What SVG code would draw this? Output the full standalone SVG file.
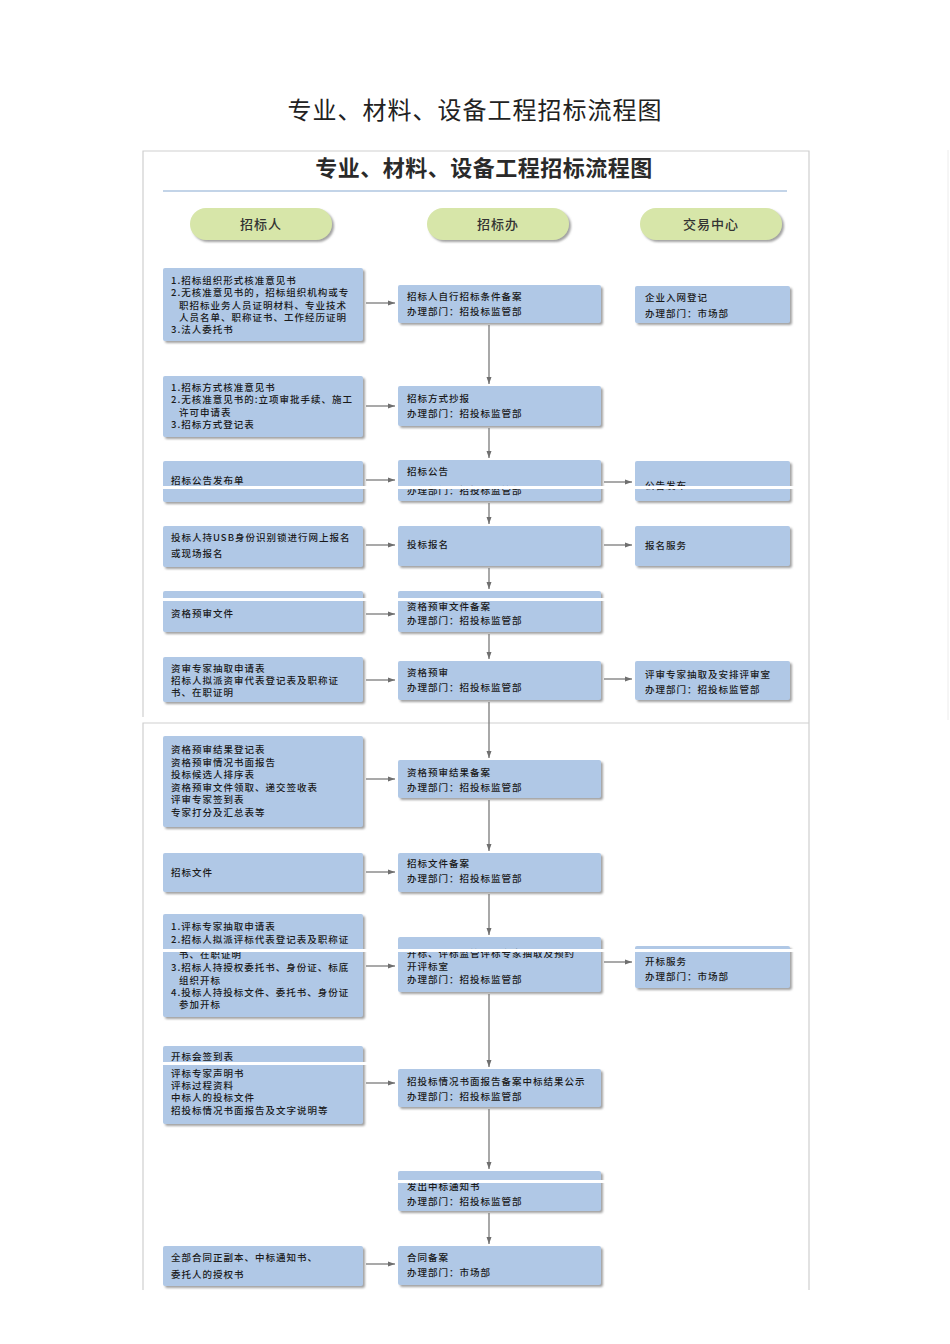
<svg xmlns="http://www.w3.org/2000/svg" width="950" height="1344" viewBox="0 0 950 1344">
<defs>
<filter id="sh" x="-10%" y="-10%" width="120%" height="130%">
<feDropShadow dx="2" dy="2" stdDeviation="1" flood-color="#8a8a8a" flood-opacity="0.8"/>
</filter>
<marker id="ah" markerWidth="8" markerHeight="8" refX="7" refY="4" orient="auto" markerUnits="userSpaceOnUse">
<path d="M0,1.5 L7,4 L0,6.5 Z" fill="#6f6f6f"/>
</marker>
<style>
.box{fill:#b0c8e6;filter:url(#sh)}
.pill{fill:#d7e6a9;filter:url(#sh)}
.t{font-family:"Noto Sans CJK SC","Liberation Sans",sans-serif;font-size:9.5px;font-weight:500;fill:#1a1a1a;letter-spacing:1px}
.p{font-family:"Noto Sans CJK SC","Liberation Sans",sans-serif;font-size:13px;font-weight:500;fill:#333;text-anchor:middle;letter-spacing:1px}
.c{stroke:#7a7a7a;stroke-width:1.3;fill:none;marker-end:url(#ah)}
.frame{stroke:#cfcfcf;stroke-width:1.2;fill:none}
.gap{fill:#ffffff}
</style>
</defs>
<rect x="0" y="0" width="950" height="1344" fill="#ffffff"/>
<text x="475" y="119" text-anchor="middle" font-family="Noto Sans CJK SC, Liberation Serif, serif" font-size="24" fill="#222" letter-spacing="1">专业、材料、设备工程招标流程图</text>

<g id="frame">
<path class="frame" d="M143,717 L143,151 L809,151 L809,1290"/>
<path class="frame" d="M143,1290 L143,723 L809,723"/>
<line x1="948" y1="150" x2="948" y2="720" stroke="#ececec" stroke-width="1"/>
<text x="484" y="176" text-anchor="middle" font-family="Noto Sans CJK SC, sans-serif" font-size="22" font-weight="bold" fill="#2a2a2a" letter-spacing="0.5">专业、材料、设备工程招标流程图</text>
<line x1="163" y1="191" x2="787" y2="191" stroke="#c3d4e8" stroke-width="2"/>
</g>

<g id="lane-zbr"><rect class="pill" x="190" y="208" width="142" height="32" rx="16"/><text class="p" x="261" y="229">招标人</text></g>
<g id="lane-zbb"><rect class="pill" x="427" y="208" width="142" height="32" rx="16"/><text class="p" x="498" y="229">招标办</text></g>
<g id="lane-jyzx"><rect class="pill" x="640" y="208" width="142" height="32" rx="16"/><text class="p" x="711" y="229">交易中心</text></g>

<!-- left column -->
<g id="L1"><rect class="box" x="163" y="268" width="200" height="73" rx="2"/>
<text class="t" x="171" y="284">1.招标组织形式核准意见书</text>
<text class="t" x="171" y="296">2.无核准意见书的，招标组织机构或专</text>
<text class="t" x="179" y="309">职招标业务人员证明材料、专业技术</text>
<text class="t" x="179" y="321">人员名单、职称证书、工作经历证明</text>
<text class="t" x="171" y="333">3.法人委托书</text></g>
<g id="L2"><rect class="box" x="163" y="376" width="200" height="61" rx="2"/>
<text class="t" x="171" y="391">1.招标方式核准意见书</text>
<text class="t" x="171" y="403">2.无核准意见书的:立项审批手续、施工</text>
<text class="t" x="179" y="416">许可申请表</text>
<text class="t" x="171" y="428">3.招标方式登记表</text></g>
<g id="L3"><rect class="box" x="163" y="461" width="200" height="41" rx="2"/>
<text class="t" x="171" y="484">招标公告发布单</text></g>
<g id="L4"><rect class="box" x="163" y="526" width="200" height="41" rx="2"/>
<text class="t" x="171" y="541">投标人持USB身份识别锁进行网上报名</text>
<text class="t" x="171" y="557">或现场报名</text></g>
<g id="L5"><rect class="box" x="163" y="591" width="200" height="41" rx="2"/>
<text class="t" x="171" y="617">资格预审文件</text></g>
<g id="L6"><rect class="box" x="163" y="657" width="200" height="45" rx="2"/>
<text class="t" x="171" y="672">资审专家抽取申请表</text>
<text class="t" x="171" y="684">招标人拟派资审代表登记表及职称证</text>
<text class="t" x="171" y="696">书、在职证明</text></g>
<g id="L7"><rect class="box" x="163" y="736" width="200" height="91" rx="2"/>
<text class="t" x="171" y="753">资格预审结果登记表</text>
<text class="t" x="171" y="766">资格预审情况书面报告</text>
<text class="t" x="171" y="778">投标候选人排序表</text>
<text class="t" x="171" y="791">资格预审文件领取、递交签收表</text>
<text class="t" x="171" y="803">评审专家签到表</text>
<text class="t" x="171" y="816">专家打分及汇总表等</text></g>
<g id="L8"><rect class="box" x="163" y="853" width="200" height="39" rx="2"/>
<text class="t" x="171" y="876">招标文件</text></g>
<g id="L9"><rect class="box" x="163" y="914" width="200" height="103" rx="2"/>
<text class="t" x="171" y="930">1.评标专家抽取申请表</text>
<text class="t" x="171" y="943">2.招标人拟派评标代表登记表及职称证</text>
<text class="t" x="179" y="958">书、在职证明</text>
<text class="t" x="171" y="971">3.招标人持授权委托书、身份证、标底</text>
<text class="t" x="179" y="984">组织开标</text>
<text class="t" x="171" y="996">4.投标人持投标文件、委托书、身份证</text>
<text class="t" x="179" y="1008">参加开标</text></g>
<g id="L10"><rect class="box" x="163" y="1046" width="200" height="78" rx="2"/>
<text class="t" x="171" y="1060">开标会签到表</text>
<text class="t" x="171" y="1077">评标专家声明书</text>
<text class="t" x="171" y="1089">评标过程资料</text>
<text class="t" x="171" y="1101">中标人的投标文件</text>
<text class="t" x="171" y="1114">招投标情况书面报告及文字说明等</text></g>
<g id="L11"><rect class="box" x="163" y="1246" width="200" height="40" rx="2"/>
<text class="t" x="171" y="1261">全部合同正副本、中标通知书、</text>
<text class="t" x="171" y="1278">委托人的授权书</text></g>

<!-- middle column -->
<g id="M1"><rect class="box" x="398" y="285" width="203" height="38" rx="2"/>
<text class="t" x="407" y="300">招标人自行招标条件备案</text>
<text class="t" x="407" y="315">办理部门：招投标监管部</text></g>
<g id="M2"><rect class="box" x="398" y="386" width="203" height="40" rx="2"/>
<text class="t" x="407" y="402">招标方式抄报</text>
<text class="t" x="407" y="417">办理部门：招投标监管部</text></g>
<g id="M3"><rect class="box" x="398" y="460" width="203" height="41" rx="2"/>
<text class="t" x="407" y="475">招标公告</text>
<text class="t" x="407" y="494">办理部门：招投标监管部</text></g>
<g id="M4"><rect class="box" x="398" y="526" width="203" height="40" rx="2"/>
<text class="t" x="407" y="548">投标报名</text></g>
<g id="M5"><rect class="box" x="398" y="591" width="203" height="41" rx="2"/>
<text class="t" x="407" y="610">资格预审文件备案</text>
<text class="t" x="407" y="624">办理部门：招投标监管部</text></g>
<g id="M6"><rect class="box" x="398" y="661" width="203" height="39" rx="2"/>
<text class="t" x="407" y="676">资格预审</text>
<text class="t" x="407" y="691">办理部门：招投标监管部</text></g>
<g id="M7"><rect class="box" x="398" y="760" width="203" height="38" rx="2"/>
<text class="t" x="407" y="776">资格预审结果备案</text>
<text class="t" x="407" y="791">办理部门：招投标监管部</text></g>
<g id="M8"><rect class="box" x="398" y="853" width="203" height="39" rx="2"/>
<text class="t" x="407" y="867">招标文件备案</text>
<text class="t" x="407" y="882">办理部门：招投标监管部</text></g>
<g id="M9"><rect class="box" x="398" y="937" width="203" height="55" rx="2"/>
<text class="t" x="407" y="957">开标、评标监管评标专家抽取及预约</text>
<text class="t" x="407" y="970">开评标室</text>
<text class="t" x="407" y="983">办理部门：招投标监管部</text></g>
<g id="M10"><rect class="box" x="398" y="1069" width="203" height="38" rx="2"/>
<text class="t" x="407" y="1085">招投标情况书面报告备案中标结果公示</text>
<text class="t" x="407" y="1100">办理部门：招投标监管部</text></g>
<g id="M11"><rect class="box" x="398" y="1171" width="203" height="40" rx="2"/>
<text class="t" x="407" y="1190">发出中标通知书</text>
<text class="t" x="407" y="1205">办理部门：招投标监管部</text></g>
<g id="M12"><rect class="box" x="398" y="1246" width="203" height="39" rx="2"/>
<text class="t" x="407" y="1261">合同备案</text>
<text class="t" x="407" y="1276">办理部门：市场部</text></g>

<!-- right column -->
<g id="R1"><rect class="box" x="635" y="286" width="155" height="37" rx="2"/>
<text class="t" x="645" y="301">企业入网登记</text>
<text class="t" x="645" y="317">办理部门：市场部</text></g>
<g id="R2"><rect class="box" x="635" y="461" width="155" height="40" rx="2"/>
<text class="t" x="645" y="489">公告发布</text></g>
<g id="R3"><rect class="box" x="635" y="526" width="155" height="40" rx="2"/>
<text class="t" x="645" y="549">报名服务</text></g>
<g id="R4"><rect class="box" x="635" y="661" width="155" height="39" rx="2"/>
<text class="t" x="645" y="678">评审专家抽取及安排评审室</text>
<text class="t" x="645" y="693">办理部门：招投标监管部</text></g>
<g id="R5"><rect class="box" x="635" y="946" width="155" height="42" rx="2"/>
<text class="t" x="645" y="965">开标服务</text>
<text class="t" x="645" y="980">办理部门：市场部</text></g>

<!-- scan strips -->
<g id="strips">
<rect class="gap" x="160" y="486" width="640" height="3"/>
<rect class="gap" x="160" y="598" width="450" height="3"/>
<rect class="gap" x="160" y="949" width="640" height="3"/>
<rect class="gap" x="160" y="1062" width="210" height="3"/>
<rect class="gap" x="395" y="1180" width="215" height="3"/>
</g>

<g id="connectors">
<line class="c" x1="366" y1="303" x2="395" y2="303"/>
<line class="c" x1="366" y1="406" x2="395" y2="406"/>
<line class="c" x1="366" y1="480" x2="395" y2="480"/>
<line class="c" x1="366" y1="545" x2="395" y2="545"/>
<line class="c" x1="366" y1="614" x2="395" y2="614"/>
<line class="c" x1="366" y1="680" x2="395" y2="680"/>
<line class="c" x1="366" y1="779" x2="395" y2="779"/>
<line class="c" x1="366" y1="872" x2="395" y2="872"/>
<line class="c" x1="366" y1="966" x2="395" y2="966"/>
<line class="c" x1="366" y1="1083" x2="395" y2="1083"/>
<line class="c" x1="366" y1="1264" x2="395" y2="1264"/>
<line class="c" x1="604" y1="482" x2="632" y2="482"/>
<line class="c" x1="604" y1="545" x2="632" y2="545"/>
<line class="c" x1="604" y1="679" x2="632" y2="679"/>
<line class="c" x1="604" y1="962" x2="632" y2="962"/>
<line class="c" x1="489" y1="325" x2="489" y2="384"/>
<line class="c" x1="489" y1="428" x2="489" y2="458"/>
<line class="c" x1="489" y1="503" x2="489" y2="524"/>
<line class="c" x1="489" y1="568" x2="489" y2="589"/>
<line class="c" x1="489" y1="634" x2="489" y2="659"/>
<line class="c" x1="489" y1="702" x2="489" y2="758"/>
<line class="c" x1="489" y1="800" x2="489" y2="851"/>
<line class="c" x1="489" y1="894" x2="489" y2="935"/>
<line class="c" x1="489" y1="994" x2="489" y2="1067"/>
<line class="c" x1="489" y1="1109" x2="489" y2="1169"/>
<line class="c" x1="489" y1="1213" x2="489" y2="1244"/>
</g>
</svg>
